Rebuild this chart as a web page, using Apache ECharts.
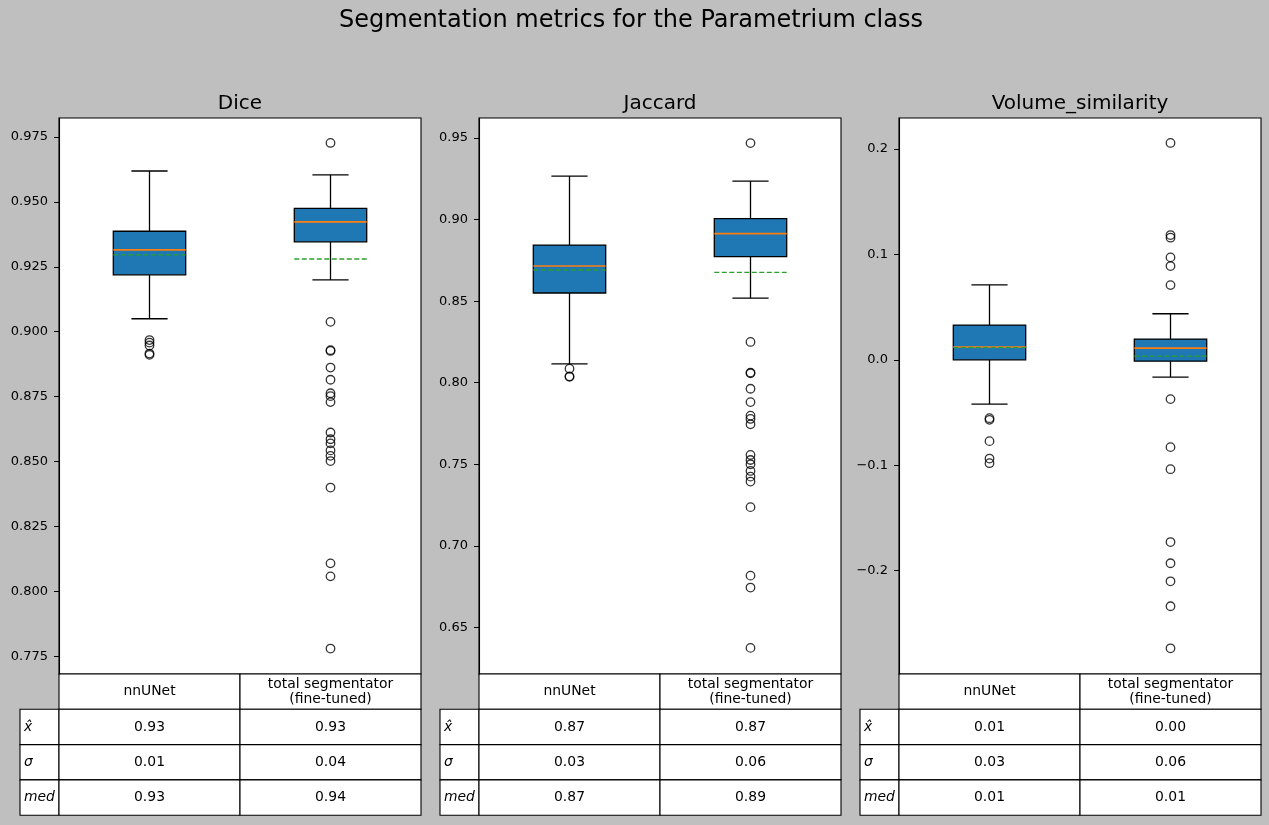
<!DOCTYPE html>
<html lang="en">
<head>
  <meta charset="UTF-8">
  <title>Segmentation metrics</title>
  <style>
    body { margin: 0; background: #bfbfbf; }
    #main { width: 1269px; height: 825px; }
  </style>
</head>
<body>
<div id="main"></div>
<script src="https://cdn.jsdelivr.net/npm/echarts@6/dist/echarts.min.js"></script>
<script>
  // categories (two models)
  const categories = ['nnUNet', 'total segmentator\n(fine-tuned)'];
  const panelTitles = ['Dice', 'Jaccard', 'Volume_similarity'];

  // box stats per model: [whisker low, q1, median, q3, whisker high, mean]
  const diceBoxes = [
    [0.905, 0.9219, 0.9315, 0.9387, 0.9619, 0.9296],
    [0.920, 0.9346, 0.9423, 0.9475, 0.9604, 0.9280]
  ];
  const jaccardBoxes = [
    [0.8115, 0.8550, 0.8716, 0.8844, 0.9267, 0.8691],
    [0.8518, 0.8773, 0.8914, 0.9006, 0.9236, 0.8677]
  ];
  const volumeBoxes = [
    [-0.0420, 0.0000, 0.0121, 0.0330, 0.0712, 0.0115],
    [-0.0164, -0.0013, 0.0111, 0.0197, 0.0437, 0.0035]
  ];

  // outliers per model
  const diceOutliers = [
    [0.8968, 0.8958, 0.8947, 0.8916, 0.8911],
    [0.9727, 0.9038, 0.8929, 0.8926, 0.8862, 0.8815, 0.8763, 0.8752, 0.8729, 0.8612,
      0.8586, 0.8570, 0.8543, 0.8522, 0.8502, 0.8400, 0.8108, 0.8058, 0.7780]
  ];
  const jaccardOutliers = [
    [0.8086, 0.8039, 0.8036],
    [0.9469, 0.8250, 0.8062, 0.8058, 0.7963, 0.7881, 0.7798, 0.7778, 0.7745, 0.7557,
      0.7526, 0.7500, 0.7459, 0.7424, 0.7394, 0.7237, 0.6817, 0.6744, 0.6374]
  ];
  const volumeOutliers = [
    [-0.0554, -0.0570, -0.0772, -0.0937, -0.0981],
    [0.2058, 0.1184, 0.1159, 0.0972, 0.0890, 0.0709, -0.0373, -0.0829, -0.1038,
      -0.1730, -0.1931, -0.2102, -0.2339, -0.2738]
  ];

  // tick labels
  const diceTicks = [0.775, 0.800, 0.825, 0.850, 0.875, 0.900, 0.925, 0.950, 0.975];
  const jaccardTicks = [0.65, 0.70, 0.75, 0.80, 0.85, 0.90, 0.95];
  const volumeTicks = [-0.2, -0.1, 0.0, 0.1, 0.2];

  // table rows: mean, std, median
  const rowLabels = ['x\u0302', '\u03c3', 'med'];
  const diceTable = [[0.93, 0.93], [0.01, 0.04], [0.93, 0.94]];
  const jaccardTable = [[0.87, 0.87], [0.03, 0.06], [0.87, 0.89]];
  const volumeTable = [[0.01, 0.00], [0.03, 0.06], [0.01, 0.01]];

  const FONT = 'DejaVu Sans';
  const panels = [
    { boxes: diceBoxes, outliers: diceOutliers, ticks: diceTicks, table: diceTable,
      min: 0.7682, max: 0.9823, digits: 3 },
    { boxes: jaccardBoxes, outliers: jaccardOutliers, ticks: jaccardTicks, table: jaccardTable,
      min: 0.6214, max: 0.9623, digits: 2 },
    { boxes: volumeBoxes, outliers: volumeOutliers, ticks: volumeTicks, table: volumeTable,
      min: -0.2982, max: 0.2295, digits: 1 }
  ];
  const gridLefts = [59, 479, 899];
  const gridW = 362, gridTop = 118, gridH = 556;
  const rowH = 35.3, labelW = 39;

  // draw one box with whiskers, median and mean
  function renderBox(params, api) {
    const x = api.value(0);
    const lo = api.coord([x, api.value(1)]);
    const q1 = api.coord([x, api.value(2)]);
    const med = api.coord([x, api.value(3)]);
    const q3 = api.coord([x, api.value(4)]);
    const hi = api.coord([x, api.value(5)]);
    const mean = api.coord([x, api.value(6)]);
    const band = api.size([1, 0])[0];
    const bw = band * 0.4, cw = bw / 2, cx = lo[0];
    const line = (x1, y1, x2, y2, style) => ({
      type: 'line', shape: { x1, y1, x2, y2 },
      style: Object.assign({ stroke: '#000', lineWidth: 1.3 }, style)
    });
    return {
      type: 'group',
      children: [
        line(cx, lo[1], cx, q1[1]),
        line(cx, q3[1], cx, hi[1]),
        line(cx - cw / 2, lo[1], cx + cw / 2, lo[1]),
        line(cx - cw / 2, hi[1], cx + cw / 2, hi[1]),
        {
          type: 'rect',
          shape: { x: cx - bw / 2, y: q3[1], width: bw, height: q1[1] - q3[1] },
          style: { fill: '#1f77b4', stroke: '#000', lineWidth: 1.3 }
        },
        line(cx - bw / 2, med[1], cx + bw / 2, med[1], { stroke: '#ff7f0e', lineWidth: 1.6 }),
        line(cx - bw / 2, mean[1], cx + bw / 2, mean[1], { stroke: '#2ca02c', lineWidth: 1.3, lineDash: [5, 2.5] })
      ]
    };
  }

  const grid = [], xAxis = [], yAxis = [], series = [], graphic = [];

  panels.forEach((p, i) => {
    const L = gridLefts[i];
    grid.push({ left: L, top: gridTop, width: gridW, height: gridH, show: true,
      backgroundColor: '#fff', borderColor: '#000', borderWidth: 1.1 });
    xAxis.push({ type: 'category', gridIndex: i, data: categories,
      axisLabel: { show: false }, axisTick: { show: false },
      axisLine: { show: false, onZero: false }, splitLine: { show: false } });
    yAxis.push({
      type: 'value', gridIndex: i, min: p.min, max: p.max,
      axisLine: { show: true, lineStyle: { color: '#000', width: 1.1 } },
      axisTick: { show: true, length: 5, customValues: p.ticks, lineStyle: { color: '#000' } },
      axisLabel: {
        customValues: p.ticks, color: '#000', fontSize: 13, fontFamily: FONT, margin: 11,
        formatter: v => v.toFixed(p.digits).replace('-', '\u2212')
      },
      splitLine: { show: false }
    });
    series.push({
      type: 'custom', xAxisIndex: i, yAxisIndex: i,
      renderItem: renderBox,
      encode: { x: 0, y: [1, 2, 3, 4, 5, 6] },
      data: p.boxes.map((b, k) => [k].concat(b)),
      silent: true, z: 2
    });
    const pts = [];
    p.outliers.forEach((arr, k) => arr.forEach(v => pts.push([k, v])));
    series.push({
      type: 'scatter', xAxisIndex: i, yAxisIndex: i, data: pts,
      symbol: 'circle', symbolSize: 8.5, silent: true, z: 3,
      itemStyle: { color: 'rgba(0,0,0,0)', borderColor: '#000', borderWidth: 1.3 }
    });

    // panel title
    graphic.push({ type: 'text', x: L + gridW / 2, y: 104,
      style: { text: panelTitles[i], fontSize: 20, fontFamily: FONT, fill: '#000',
        align: 'center', verticalAlign: 'middle' } });

    // table under the panel
    const colW = gridW / 2;
    const cellStyle = { fill: '#fff', stroke: '#000', lineWidth: 1.1 };
    const textStyle = (t, align) => ({ text: t, fontSize: 13.9, fontFamily: FONT, fill: '#000',
      align: align || 'center', verticalAlign: 'middle', lineHeight: 15 });
    const top = gridTop + gridH;
    categories.forEach((c, k) => {
      graphic.push({ type: 'rect', shape: { x: L + k * colW, y: top, width: colW, height: rowH }, style: cellStyle });
      graphic.push({ type: 'text', x: L + k * colW + colW / 2, y: top + rowH / 2, style: textStyle(c) });
    });
    p.table.forEach((row, r) => {
      const y = top + rowH * (r + 1);
      graphic.push({ type: 'rect', shape: { x: L - labelW, y, width: labelW, height: rowH }, style: cellStyle });
      graphic.push({ type: 'text', x: L - labelW + 4, y: y + rowH / 2,
        style: Object.assign(textStyle(rowLabels[r], 'left'), { fontStyle: 'italic' }) });
      row.forEach((v, k) => {
        graphic.push({ type: 'rect', shape: { x: L + k * colW, y, width: colW, height: rowH }, style: cellStyle });
        graphic.push({ type: 'text', x: L + k * colW + colW / 2, y: y + rowH / 2, style: textStyle(v.toFixed(2)) });
      });
    });
  });

  graphic.push({ type: 'text', x: 631, y: 21,
    style: { text: 'Segmentation metrics for the Parametrium class', fontSize: 24, fontFamily: FONT,
      fill: '#000', align: 'center', verticalAlign: 'middle' } });

  const chart = echarts.init(document.getElementById('main'));
  chart.setOption({
    backgroundColor: '#bfbfbf',
    animation: false,
    grid, xAxis, yAxis, series, graphic
  });
</script>
</body>
</html>
